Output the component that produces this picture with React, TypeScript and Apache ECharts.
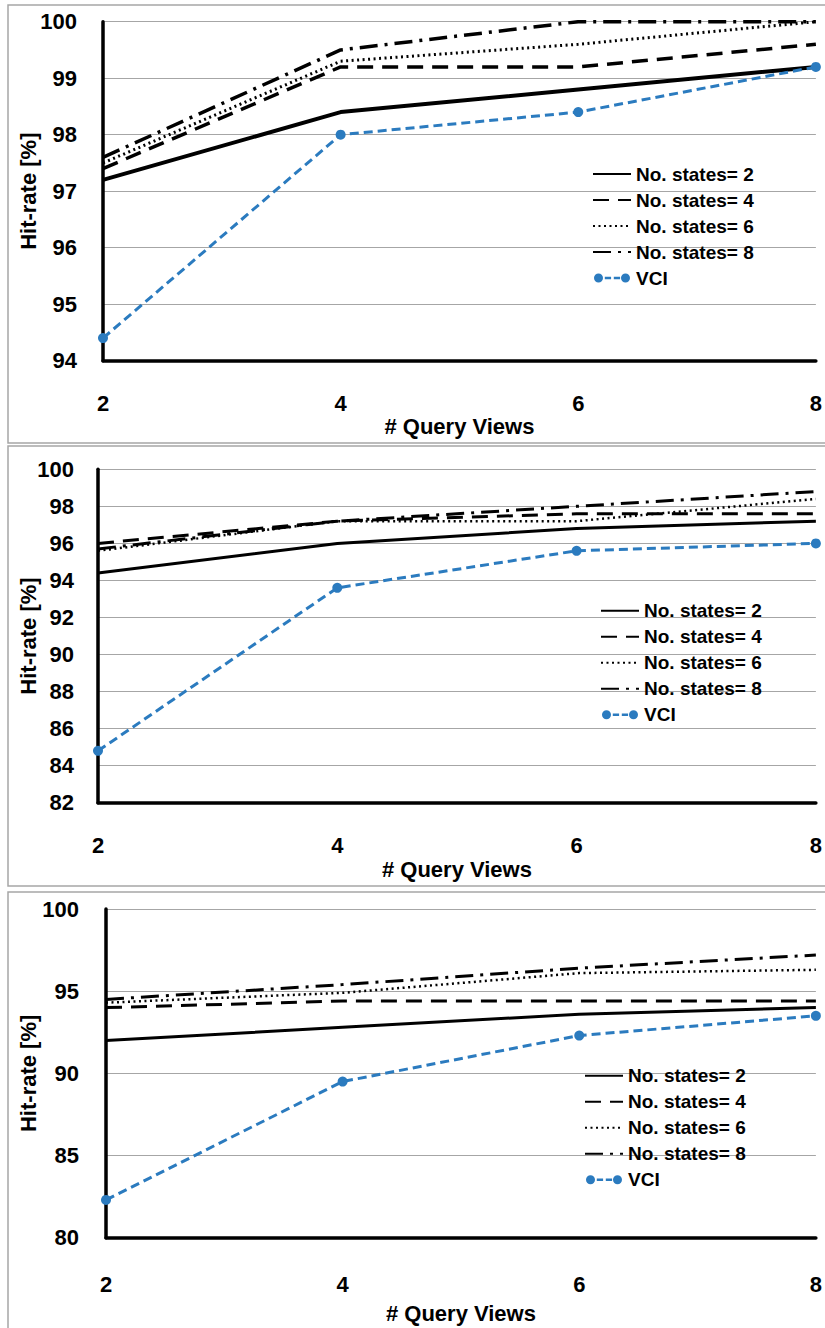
import React, { useEffect, useRef } from "react";
import * as echarts from "echarts";

// ---------- data ----------
const xValues = [2, 4, 6, 8];
const seriesNames = ["No. states= 2", "No. states= 4", "No. states= 6", "No. states= 8", "VCI"];
const xAxisTitle = "# Query Views";
const yAxisTitle = "Hit-rate [%]";

// panel 1 (top)
const p1States2 = [97.2, 98.4, 98.8, 99.2];
const p1States4 = [97.4, 99.2, 99.2, 99.6];
const p1States6 = [97.5, 99.3, 99.6, 100];
const p1States8 = [97.6, 99.5, 100, 100];
const p1VCI = [94.4, 98.0, 98.4, 99.2];
const p1YRange = [94, 100, 1];

// panel 2 (middle)
const p2States2 = [94.4, 96.0, 96.8, 97.2];
const p2States4 = [96.0, 97.2, 97.6, 97.6];
const p2States6 = [95.6, 97.2, 97.2, 98.4];
const p2States8 = [95.7, 97.2, 98.0, 98.8];
const p2VCI = [84.8, 93.6, 95.6, 96.0];
const p2YRange = [82, 100, 2];

// panel 3 (bottom)
const p3States2 = [92.0, 92.8, 93.6, 94.0];
const p3States4 = [94.0, 94.4, 94.4, 94.4];
const p3States6 = [94.3, 94.9, 96.1, 96.3];
const p3States8 = [94.5, 95.4, 96.4, 97.2];
const p3VCI = [82.3, 89.5, 92.3, 93.5];
const p3YRange = [80, 100, 5];

// ---------- styles ----------
const FONT = "'Liberation Sans', Arial, sans-serif";
const BLUE = "#2b7bbf";
const LINE_TYPES: any[] = ["solid", [16, 9], [2, 3.5], [18, 7, 3, 7], [9, 5]];
const VCI_ICON =
  "path://M0,5a5,5 0 1,0 10,0a5,5 0 1,0 -10,0Z M12,3.6h7v2.8h-7Z M22,3.6h7v2.8h-7Z M30,5a5,5 0 1,0 10,0a5,5 0 1,0 -10,0Z";

const panels = [
  {
    values: [p1States2, p1States4, p1States6, p1States8, p1VCI],
    yRange: p1YRange,
    grid: { left: 103, top: 21.7, width: 716, height: 339 },
    widths: [4, 3.5, 3, 3.5, 3],
    xLabelMargin: 32,
    xNameGap: 55,
    yLabelMargin: 26,
    yNameGap: 64,
    legend: { left: 592, top: 164 },
    frame: { x: 8, y: 5, height: 438 },
  },
  {
    values: [p2States2, p2States4, p2States6, p2States8, p2VCI],
    yRange: p2YRange,
    grid: { left: 98, top: 469.3, width: 721, height: 333.4 },
    widths: [3, 3, 2.5, 3, 3],
    xLabelMargin: 32,
    xNameGap: 56,
    yLabelMargin: 24,
    yNameGap: 59,
    legend: { left: 600, top: 600.7 },
    frame: { x: 8, y: 446, height: 440 },
  },
  {
    values: [p3States2, p3States4, p3States6, p3States8, p3VCI],
    yRange: p3YRange,
    grid: { left: 106, top: 909, width: 713, height: 328.7 },
    widths: [3, 3, 2.5, 3, 3],
    xLabelMargin: 36,
    xNameGap: 65,
    yLabelMargin: 27,
    yNameGap: 67,
    legend: { left: 584, top: 1065.7 },
    frame: { x: 8, y: 892, height: 450 },
  },
];

function buildOption() {
  const grids: any[] = [];
  const xAxes: any[] = [];
  const yAxes: any[] = [];
  const series: any[] = [];
  const legends: any[] = [];
  const graphics: any[] = [];

  panels.forEach((p, pi) => {
    graphics.push({
      type: "rect",
      shape: { x: p.frame.x, y: p.frame.y, width: 840, height: p.frame.height },
      style: { fill: "none", stroke: "#a6a6a6", lineWidth: 1.5 },
      z: -1,
    });
    grids.push({ ...p.grid, containLabel: false });
    xAxes.push({
      type: "value",
      gridIndex: pi,
      min: 2,
      max: 8,
      interval: 2,
      name: xAxisTitle,
      nameLocation: "middle",
      nameGap: p.xNameGap,
      nameMoveOverlap: false,
      nameTextStyle: { fontFamily: FONT, fontWeight: "bold", fontSize: 22, color: "#000" },
      axisLine: { show: true, onZero: false, lineStyle: { color: "#000", width: 3.5 } },
      axisTick: { show: false },
      splitLine: { show: false },
      axisLabel: {
        margin: p.xLabelMargin,
        fontFamily: FONT,
        fontWeight: "bold",
        fontSize: 22,
        color: "#000",
      },
    });
    yAxes.push({
      type: "value",
      gridIndex: pi,
      min: p.yRange[0],
      max: p.yRange[1],
      interval: p.yRange[2],
      name: yAxisTitle,
      nameLocation: "middle",
      nameRotate: 90,
      nameGap: p.yNameGap,
      nameMoveOverlap: false,
      nameTextStyle: { fontFamily: FONT, fontWeight: "bold", fontSize: 22, color: "#000" },
      axisLine: { show: true, onZero: false, lineStyle: { color: "#000", width: 3.5 } },
      axisTick: { show: false },
      splitLine: { show: true, lineStyle: { color: "#a6a6a6", width: 1.2 } },
      axisLabel: {
        margin: p.yLabelMargin,
        fontFamily: FONT,
        fontWeight: "bold",
        fontSize: 22,
        color: "#000",
      },
    });
    p.values.forEach((vals, si) => {
      const isVCI = si === 4;
      series.push({
        type: "line",
        name: seriesNames[si],
        xAxisIndex: pi,
        yAxisIndex: pi,
        data: xValues.map((x, k) => [x, vals[k]]),
        symbol: isVCI ? "circle" : "none",
        symbolSize: 10,
        showSymbol: isVCI,
        z: isVCI ? 5 : 3,
        color: isVCI ? BLUE : "#000",
        itemStyle: { color: isVCI ? BLUE : "#000" },
        lineStyle: {
          color: isVCI ? BLUE : "#000",
          width: p.widths[si],
          type: LINE_TYPES[si],
        },
      });
    });
    legends.push({
      show: true,
      left: p.legend.left,
      top: p.legend.top,
      orient: "vertical",
      itemWidth: 38,
      itemHeight: 9,
      itemGap: 6,
      selectedMode: false,
      padding: 0,
      textStyle: { fontFamily: FONT, fontWeight: "bold", fontSize: 19, color: "#000", lineHeight: 20 },
      data: seriesNames.map((n, i) =>
        i === 4
          ? { name: n, icon: VCI_ICON, itemStyle: { color: BLUE } }
          : { name: n, itemStyle: { color: "rgba(0,0,0,0)", borderWidth: 0 } }
      ),
    });
  });

  return {
    animation: false,
    backgroundColor: "#fff",
    grid: grids,
    xAxis: xAxes,
    yAxis: yAxes,
    legend: legends,
    series,
    graphic: graphics,
  };
}

export default function App() {
  const ref = useRef<HTMLDivElement>(null);
  useEffect(() => {
    if (!ref.current) return;
    const chart = echarts.init(ref.current, undefined, { renderer: "svg" });
    chart.setOption(buildOption() as any);
    return () => chart.dispose();
  }, []);
  return (
    <div
      ref={ref}
      style={{ position: "absolute", left: 0, top: 0, width: 825, height: 1328, background: "#fff" }}
    />
  );
}
